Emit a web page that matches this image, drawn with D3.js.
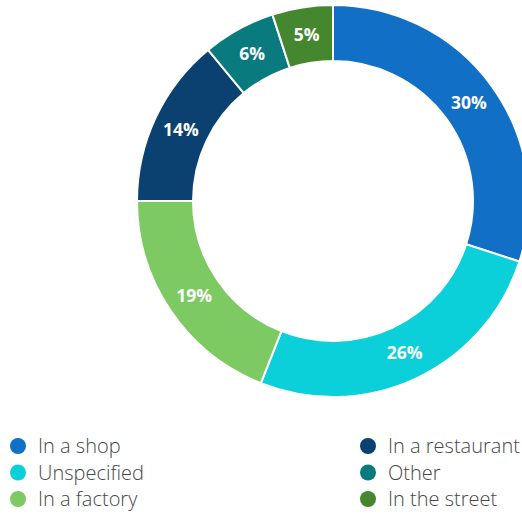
<!DOCTYPE html>
<html>
<head>
<meta charset="utf-8">
<script src="https://cdn.jsdelivr.net/npm/d3@7"></script>
<style>
  body { margin: 0; background: #fff; }
  svg { display: block; }
</style>
</head>
<body>
<svg id="chart" width="522" height="515"></svg>
<script>
// data, clockwise from 12 o'clock
const categories = ["In a shop", "Unspecified", "In a factory", "In a restaurant", "Other", "In the street"]
const shares = [30, 26, 19, 14, 6, 5]
const colors = ["#116fc6", "#0cd0d9", "#7dca62", "#0b4171", "#097a7d", "#45872e"]

const svg = d3.select("#chart")
const cx = 333, cy = 201
const outerR = 196, innerR = 140

const slices = categories.map((c, i) => ({ name: c, value: shares[i], color: colors[i] }))

const pie = d3.pie().value(d => d.value).sort(null)
const arc = d3.arc().innerRadius(innerR).outerRadius(outerR)

const g = svg.append("g").attr("transform", `translate(${cx},${cy})`)

g.selectAll("path").data(pie(slices)).join("path")
  .attr("d", arc)
  .attr("fill", d => d.data.color)
  .attr("stroke", "#fff")
  .attr("stroke-width", 2)

g.selectAll("text").data(pie(slices)).join("text")
  .attr("transform", d => `translate(${arc.centroid(d)})`)
  .attr("text-anchor", "middle")
  .attr("dy", "0.36em")
  .attr("fill", "#fff")
  .attr("font-family", "'Open Sans', sans-serif")
  .attr("font-weight", 700)
  .attr("font-size", 17.5)
  .text(d => d.data.value + "%")

// legend: two columns of three
const legend = svg.append("g")
const colX = [18, 368]
const rowY = d3.scaleLinear().domain([0, 2]).range([446, 499])

legend.selectAll("g").data(slices).join("g")
  .attr("transform", (d, i) => `translate(${colX[Math.floor(i / 3)]},${rowY(i % 3)})`)
  .each(function (d) {
    const item = d3.select(this)
    item.append("circle").attr("r", 8).attr("fill", d.color)
    item.append("text")
      .attr("x", 20)
      .attr("dy", "0.35em")
      .attr("fill", "#474747")
      .attr("font-family", "'Open Sans', sans-serif")
      .attr("font-weight", 300)
      .attr("font-size", 20)
      .text(d.name)
  })
</script>
</body>
</html>
